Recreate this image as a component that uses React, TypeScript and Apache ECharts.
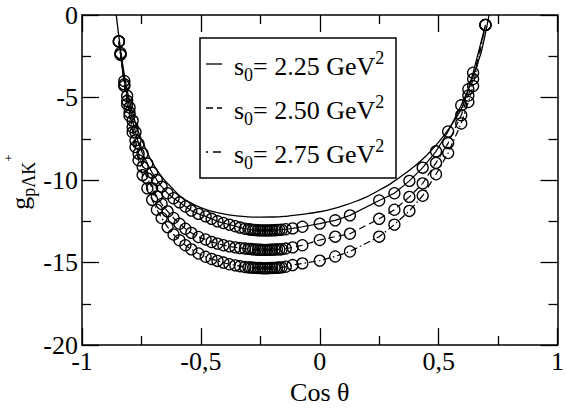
import React, { useEffect, useRef } from "react";
import * as echarts from "echarts";

// ---- Data ----
const xTickValues = [-1, -0.5, 0, 0.5, 1];
const xTickLabels = ["-1", "-0,5", "0", "0,5", "1"];
const yTickValues = [-20, -15, -10, -5, 0];
const yTickLabels = ["-20", "-15", "-10", "-5", "0"];

const legendLabels = ["2.25", "2.50", "2.75"];

// upper curve without markers
const topX = [-0.856, -0.845, -0.83, -0.815, -0.8, -0.78, -0.76, -0.74, -0.72, -0.7, -0.675, -0.65, -0.62, -0.59, -0.56, -0.52, -0.48, -0.44, -0.4, -0.35, -0.3, -0.25, -0.2, -0.15, -0.1, -0.05, 0, 0.05, 0.1, 0.15, 0.2, 0.25, 0.3, 0.35, 0.4, 0.45, 0.5, 0.55, 0.6, 0.63, 0.66, 0.68, 0.7, 0.712];
const topY = [0, -1.3, -2.9, -4.2, -5.2, -6.3, -7.2, -7.85, -8.5, -9.05, -9.6, -10.05, -10.5, -10.95, -11.25, -11.55, -11.78, -11.95, -12.07, -12.17, -12.23, -12.25, -12.24, -12.2, -12.12, -12.03, -11.92, -11.76, -11.55, -11.3, -11.0, -10.62, -10.2, -9.7, -9.15, -8.5, -7.7, -6.75, -5.55, -4.3, -3.1, -2.2, -0.9, 0];

// circle positions (cos theta)
const circleX = [
  -0.845, -0.838, -0.822, -0.81, -0.8, -0.787, -0.775, -0.762, -0.745, -0.725, -0.705, -0.685, -0.665, -0.64, -0.615, -0.59, -0.565, -0.54, -0.51, -0.48, -0.455, -0.43, -0.405, -0.38, -0.355, -0.335, -0.315,
  -0.3, -0.29, -0.28, -0.27, -0.26, -0.25, -0.24, -0.23, -0.22, -0.21, -0.2, -0.19, -0.18, -0.17, -0.16,
  -0.143, -0.114, -0.073, 0.0, 0.065, 0.127, 0.25, 0.314, 0.377, 0.433, 0.489, 0.54, 0.595, 0.625, 0.645, 0.697,
];
// s0 = 2.25
const s225Y = [
  -1.6, -2.3, -4.0, -4.9, -5.6, -6.4, -7.1, -7.8, -8.4, -9.0, -9.55, -10.0, -10.4, -10.8, -11.1, -11.35, -11.6, -11.85, -12.05, -12.2, -12.35, -12.5, -12.6, -12.7, -12.8, -12.88, -12.95,
  -12.98, -13.0, -13.02, -13.03, -13.04, -13.05, -13.05, -13.05, -13.05, -13.05, -13.04, -13.04, -13.03, -13.02, -13.01,
  -12.98, -12.93, -12.83, -12.64, -12.44, -12.14, -11.24, -10.8, -10.05, -9.25, -8.26, -7.06, -5.47, -4.5, -3.5, -0.6,
];
// s0 = 2.50
const s250Y = [
  -1.6, -2.4, -4.2, -5.2, -5.9, -6.8, -7.6, -8.4, -9.2, -9.9, -10.5, -11.0, -11.45, -11.9, -12.3, -12.65, -12.95, -13.2, -13.45, -13.6, -13.75, -13.85, -13.95, -14.02, -14.08, -14.12, -14.15,
  -14.17, -14.18, -14.2, -14.21, -14.22, -14.22, -14.23, -14.23, -14.23, -14.22, -14.22, -14.21, -14.2, -14.2, -14.19,
  -14.15, -14.08, -13.95, -13.63, -13.43, -13.25, -12.35, -11.8, -11.02, -10.2, -8.96, -7.76, -6.07, -4.88, -3.88, -0.6,
];
// s0 = 2.75
const s275Y = [
  -1.6, -2.4, -4.3, -5.4, -6.1, -7.1, -8.0, -8.8, -9.7, -10.5, -11.2, -11.8, -12.3, -12.85, -13.3, -13.65, -13.95, -14.2, -14.45, -14.65, -14.78, -14.9, -15.0, -15.1, -15.17, -15.22, -15.27,
  -15.29, -15.3, -15.31, -15.32, -15.33, -15.33, -15.34, -15.34, -15.34, -15.33, -15.33, -15.32, -15.31, -15.3, -15.29,
  -15.25, -15.15, -15.05, -14.88, -14.63, -14.33, -13.43, -12.7, -11.87, -10.95, -9.65, -8.36, -6.57, -5.27, -4.3, -0.6,
];

const FONT = "Liberation Serif";

const zip = (xs: number[], ys: number[]) => xs.map((x, i) => [x, ys[i]]);

const fmtX = (v: number) => {
  const i = xTickValues.findIndex((t) => Math.abs(t - v) < 1e-9);
  return i >= 0 ? xTickLabels[i] : "";
};
const fmtY = (v: number) => {
  const i = yTickValues.findIndex((t) => Math.abs(t - v) < 1e-9);
  return i >= 0 ? yTickLabels[i] : "";
};

export default function App() {
  const ref = useRef<HTMLDivElement>(null);
  useEffect(() => {
    document.body.style.margin = "0";
    if (!ref.current) return;
    const chart = echarts.init(ref.current, undefined, { renderer: "svg" });

    const axisLine = { show: true, onZero: false, lineStyle: { color: "#000", width: 1.5 } };
    const tick = { show: true, inside: true, length: 17, lineStyle: { color: "#000", width: 1.3 } };
    const minor = { show: true, splitNumber: 2, length: 9, lineStyle: { color: "#000", width: 1.3 } };
    const lbl = { fontFamily: FONT, fontSize: 26, color: "#000" };

    const markerSeries = (name: string, ys: number[], type: any) => ({
      name,
      type: "line",
      data: zip(circleX, ys),
      symbol: "circle",
      symbolSize: 11,
      showAllSymbol: true,
      itemStyle: { color: "rgba(0,0,0,0)", borderColor: "#000", borderWidth: 1.3 },
      lineStyle: { color: "#000", width: 1.2, type },
      emphasis: { disabled: true },
      z: 3,
    });

    const legendRows = [
      { y: 64, dash: null as any },
      { y: 108, dash: [7, 4] },
      { y: 152, dash: [2, 5, 8, 100] },
    ];

    const graphic: any[] = [
      {
        type: "rect",
        shape: { x: 200, y: 38, width: 196, height: 140 },
        style: { fill: "#fff", stroke: "#000", lineWidth: 1.5 },
        z: 10,
      },
    ];
    legendRows.forEach((r, i) => {
      graphic.push({
        type: "line",
        shape: { x1: 206, y1: r.y, x2: 222, y2: r.y },
        style: { stroke: "#000", lineWidth: 1.3, lineDash: r.dash || undefined },
        z: 11,
      });
      graphic.push({
        type: "text",
        x: 234,
        y: r.y + 2,
        style: {
          text: `{m|s}{sub|0}{m|= ${legendLabels[i]} GeV}{sup|2}`,
          verticalAlign: "middle",
          align: "left",
          rich: {
            m: { fontFamily: FONT, fontSize: 26, lineHeight: 35, fill: "#000" },
            sub: { fontFamily: FONT, fontSize: 18, lineHeight: 18, verticalAlign: "bottom", fill: "#000" },
            sup: { fontFamily: FONT, fontSize: 18, lineHeight: 18, verticalAlign: "top", fill: "#000" },
          },
        },
        z: 11,
      });
    });
    graphic.push({
      type: "text",
      x: 20,
      y: 182,
      rotation: Math.PI / 2,
      style: {
        text: "{g|g}{sub|pΛK}{sup|+}",
        align: "center",
        verticalAlign: "middle",
        rich: {
          g: { fontFamily: FONT, fontSize: 26, lineHeight: 36, fill: "#000" },
          sub: { fontFamily: FONT, fontSize: 18, lineHeight: 18, verticalAlign: "bottom", fill: "#000" },
          sup: { fontFamily: FONT, fontSize: 13, lineHeight: 16, verticalAlign: "top", fill: "#000" },
        },
      },
    });

    chart.setOption({
      animation: false,
      textStyle: { fontFamily: FONT },
      grid: { left: 82, right: 4, top: 15, bottom: 60, containLabel: false },
      xAxis: [
        {
          type: "value",
          min: -1,
          max: 1,
          interval: 0.5,
          position: "bottom",
          axisLine,
          axisTick: tick,
          minorTick: minor,
          splitLine: { show: false },
          axisLabel: { ...lbl, margin: 3, formatter: fmtX },
          name: "Cos θ",
          nameLocation: "middle",
          nameGap: 33,
          nameTextStyle: { fontFamily: FONT, fontSize: 26, color: "#000" },
        },
        {
          type: "value",
          min: -1,
          max: 1,
          interval: 0.5,
          position: "top",
          axisLine,
          axisTick: tick,
          minorTick: minor,
          splitLine: { show: false },
          axisLabel: { show: false },
        },
      ],
      yAxis: [
        {
          type: "value",
          min: -20,
          max: 0,
          interval: 5,
          position: "left",
          axisLine,
          axisTick: tick,
          minorTick: minor,
          splitLine: { show: false },
          axisLabel: { ...lbl, margin: 4, formatter: fmtY },
        },
        {
          type: "value",
          min: -20,
          max: 0,
          interval: 5,
          position: "right",
          axisLine,
          axisTick: tick,
          minorTick: minor,
          splitLine: { show: false },
          axisLabel: { show: false },
        },
      ],
      series: [
        {
          name: "upper",
          type: "line",
          data: zip(topX, topY),
          showSymbol: false,
          smooth: 0.3,
          lineStyle: { color: "#000", width: 1.3 },
          emphasis: { disabled: true },
        },
        markerSeries("s0 = 2.25", s225Y, "solid"),
        markerSeries("s0 = 2.50", s250Y, [7, 4]),
        markerSeries("s0 = 2.75", s275Y, [7, 3, 1.5, 3]),
      ],
      graphic,
    });
    return () => chart.dispose();
  }, []);
  return <div ref={ref} style={{ width: 567, height: 410 }} />;
}
